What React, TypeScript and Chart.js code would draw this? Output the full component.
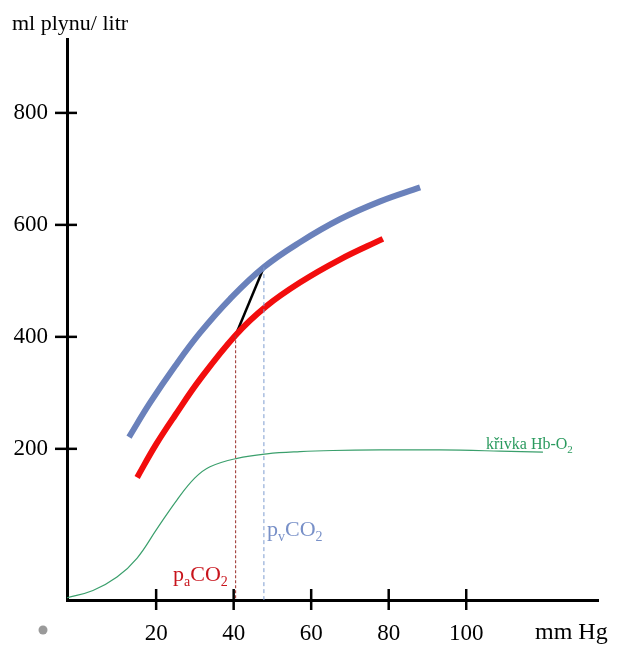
import React, { useEffect, useRef } from "react";
import { Chart, registerables } from "chart.js";

Chart.register(...registerables);

// ---- data (x: pCO2 in mm Hg, y: ml gas / litre) ----
const xTickValues = [20, 40, 60, 80, 100];
const yTickValues = [200, 400, 600, 800];

const paPoint = [40.5, 403];
const pvPoint = [47.8, 524.5];

const venousPco2 = [13.0, 18.4, 24.9, 31.3, 39.1, 47.8, 57.1, 67.4, 77.8, 88.1];
const venousContent = [221, 282, 348, 407, 468, 524.5, 569, 610, 642, 667];

const arterialPco2 = [15.1, 19.9, 24.9, 31.3, 40.5, 48.3, 57.1, 67.4, 78.5];
const arterialContent = [149, 207, 260, 324, 403, 454, 497, 538, 575];

const hbPco2 = [-3.0, 3.7, 9.9, 15.1, 20.2, 25.4, 30.0, 33.9, 40.9, 48.6, 57.1, 65.6, 77.8, 93.2, 108.7, 119.8];
const hbContent = [-66, -53, -29, 5, 57, 109, 148, 168, 183, 191, 195, 197, 198, 198, 196, 194];

const X_MIN = -3;
const X_MAX = 134;
const Y_MIN = -70;
const Y_MAX = 932;

const FONT = "'Liberation Serif', 'Times New Roman', serif";

const zip = (xs: number[], ys: number[]) => xs.map((x, i) => ({ x, y: ys[i] }));

function drawParts(
  ctx: CanvasRenderingContext2D,
  parts: { t: string; sub?: boolean }[],
  x: number,
  baseline: number,
  size: number,
  subSize: number,
  color: string
) {
  ctx.save();
  ctx.fillStyle = color;
  ctx.textBaseline = "alphabetic";
  ctx.textAlign = "left";
  let cx = x;
  for (const p of parts) {
    ctx.font = `${p.sub ? subSize : size}px ${FONT}`;
    ctx.fillText(p.t, cx, baseline + (p.sub ? size * 0.22 : 0));
    cx += ctx.measureText(p.t).width;
  }
  ctx.restore();
}

const decorPlugin = {
  id: "decor",
  afterDraw(chart: any) {
    const ctx: CanvasRenderingContext2D = chart.ctx;
    const xs = chart.scales.x;
    const ys = chart.scales.y;
    const area = chart.chartArea;
    ctx.save();
    ctx.strokeStyle = "#000";
    ctx.lineWidth = 2.5;
    ys.ticks.forEach((t: any) => {
      const py = ys.getPixelForValue(t.value);
      ctx.beginPath();
      ctx.moveTo(area.left - 12, py);
      ctx.lineTo(area.left + 10, py);
      ctx.stroke();
    });
    xs.ticks.forEach((t: any) => {
      const px = xs.getPixelForValue(t.value);
      ctx.beginPath();
      ctx.moveTo(px, area.bottom - 11);
      ctx.lineTo(px, area.bottom + 10);
      ctx.stroke();
    });
    ctx.restore();

    // axis titles
    drawParts(ctx, [{ t: "ml plynu/ litr" }], 12, 30, 22, 14, "#000");
    drawParts(ctx, [{ t: "mm Hg" }], 535, 639, 24, 14, "#000");

    // curve labels
    drawParts(
      ctx,
      [{ t: "p" }, { t: "a", sub: true }, { t: "CO" }, { t: "2", sub: true }],
      173, 581, 22, 14, "#c8141c"
    );
    drawParts(
      ctx,
      [{ t: "p" }, { t: "v", sub: true }, { t: "CO" }, { t: "2", sub: true }],
      267, 536, 22, 14, "#7890c8"
    );
    drawParts(
      ctx,
      [{ t: "křivka Hb-O" }, { t: "2", sub: true }],
      486, 449, 16, 11, "#2a9a5e"
    );

    // bullet
    ctx.save();
    ctx.fillStyle = "#9a9a9a";
    ctx.beginPath();
    ctx.arc(43, 630, 4.5, 0, Math.PI * 2);
    ctx.fill();
    ctx.restore();
  },
};

export default function App() {
  const ref = useRef<HTMLCanvasElement | null>(null);

  useEffect(() => {
    if (!ref.current) return;
    const chart = new Chart(ref.current, {
      type: "line",
      data: {
        datasets: [
          {
            label: "křivka Hb-O2",
            data: zip(hbPco2, hbContent),
            borderColor: "#3a9f6c",
            borderWidth: 1.2,
            pointRadius: 0,
            tension: 0.4,
            fill: false,
          },
          {
            label: "paCO2",
            data: [
              { x: paPoint[0], y: paPoint[1] },
              { x: paPoint[0], y: Y_MIN },
            ],
            borderColor: "#a3403c",
            borderWidth: 1.1,
            borderDash: [3, 2],
            pointRadius: 0,
          },
          {
            label: "pvCO2",
            data: [
              { x: pvPoint[0], y: pvPoint[1] },
              { x: pvPoint[0], y: Y_MIN },
            ],
            borderColor: "#7d9cd0",
            borderWidth: 1,
            borderDash: [4, 3],
            pointRadius: 0,
          },
          {
            label: "venous",
            data: zip(venousPco2, venousContent),
            borderColor: "#6a81bb",
            borderWidth: 6,
            pointRadius: 0,
            tension: 0.4,
          },
          {
            label: "arterial",
            data: zip(arterialPco2, arterialContent),
            borderColor: "#f20d0d",
            borderWidth: 6,
            pointRadius: 0,
            tension: 0.4,
          },
          {
            label: "a-v",
            data: [
              { x: paPoint[0], y: paPoint[1] },
              { x: pvPoint[0], y: pvPoint[1] },
            ],
            borderColor: "#000",
            borderWidth: 2.5,
            pointRadius: 0,
          },
        ],
      },
      options: {
        animation: false,
        responsive: false,
        layout: { padding: { left: 0, top: 39, right: 42, bottom: 0 } },
        plugins: { legend: { display: false }, tooltip: { enabled: false } },
        scales: {
          x: {
            type: "linear",
            min: X_MIN,
            max: X_MAX,
            position: "bottom",
            border: { display: true, color: "#000", width: 3 },
            grid: { display: false, drawTicks: false },
            afterBuildTicks: (s: any) => {
              s.ticks = xTickValues.map((v) => ({ value: v }));
            },
            afterFit: (s: any) => {
              s.height = 58;
            },
            ticks: {
              color: "#000",
              font: { family: FONT, size: 23 },
              padding: 20,
              maxRotation: 0,
              callback: (v: any) => String(v),
            },
          },
          y: {
            type: "linear",
            min: Y_MIN,
            max: Y_MAX,
            position: "left",
            border: { display: true, color: "#000", width: 3 },
            grid: { display: false, drawTicks: false },
            afterBuildTicks: (s: any) => {
              s.ticks = yTickValues.map((v) => ({ value: v }));
            },
            afterFit: (s: any) => {
              s.width = 67;
            },
            ticks: {
              color: "#000",
              font: { family: FONT, size: 23 },
              padding: 19,
              callback: (v: any) => String(v),
            },
          },
        },
      },
      plugins: [decorPlugin],
    } as any);
    return () => chart.destroy();
  }, []);

  return (
    <div style={{ position: "fixed", left: 0, top: 0, width: 640, height: 658, background: "#fff" }}>
      <canvas ref={ref} width={640} height={658} style={{ width: 640, height: 658, display: "block" }} />
    </div>
  );
}
